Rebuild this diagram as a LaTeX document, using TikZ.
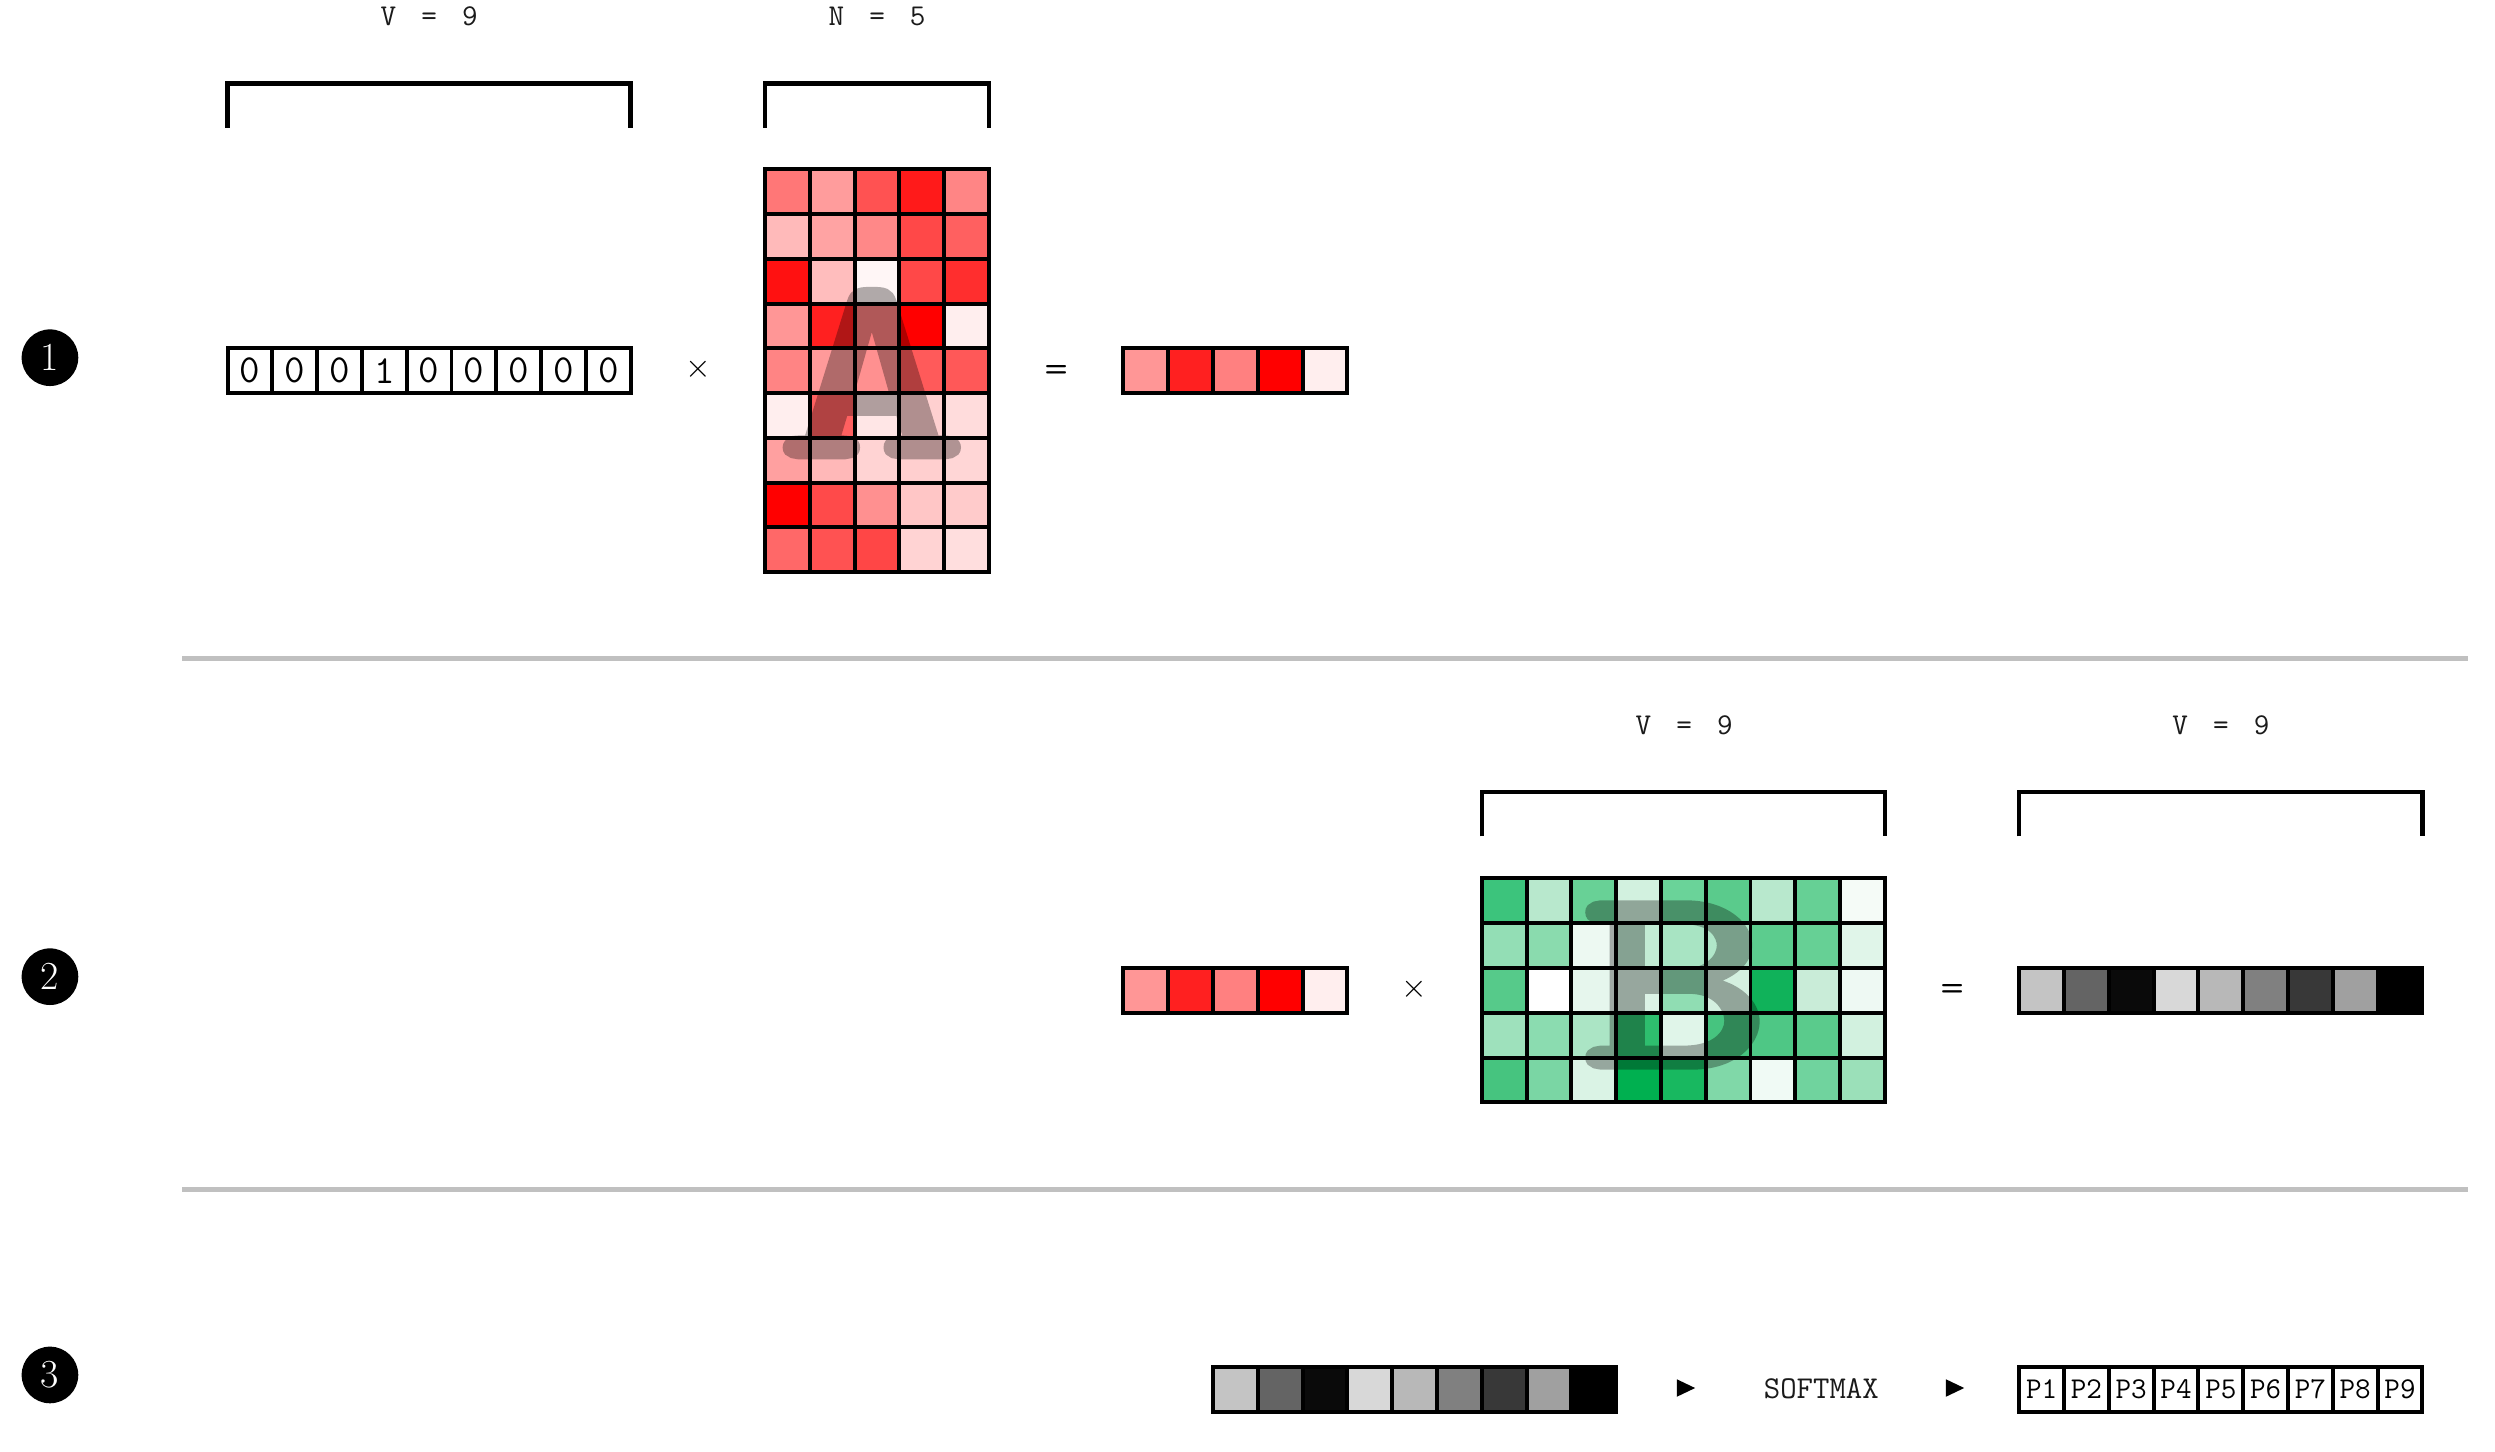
\documentclass[tikz,border=0pt]{standalone}
\usepackage{graphicx}
\font\ovfont="[lmmono10-regular.otf]:embolden=3" at 166pt
\newcommand\csz{28.15}
\newcommand\colvec[4]{\foreach [count=\i] \col in {#4} {\definecolor{cellfill}{HTML}{\col}\node[cellbox, fill=cellfill] (#1-\i) at ({#2+(\i-0.5)*\csz}, #3) {};}}
\newcommand\txtvec[5]{\foreach [count=\i] \txt in {#5} {\node[cellbox, fill=white, font={#4}] (#1-\i) at ({#2+(\i-0.5)*\csz}, #3) {\txt};}}
\newcommand\colmat[4]{\foreach [count=\r] \rowlist in {#4} {\foreach [count=\k] \col in \rowlist {\definecolor{cellfill}{HTML}{\col}\node[cellbox, fill=cellfill] (#1-\r-\k) at ({#2+(\k-0.5)*\csz}, {#3+(\r-0.5)*\csz}) {};}}}
\begin{document}
\begin{tikzpicture}[x=1pt,y=-1pt,
  cellbox/.style={draw=black, line width=2.5pt, minimum width=28.15pt, minimum height=28.15pt, inner sep=0pt, outer sep=0pt},
  brk/.style={draw=black, line width=2.8pt},
  lbl/.style={inner sep=0pt, text=txtgray, font=\fontsize{19}{19}\selectfont\ttfamily},
  op/.style={inner sep=0pt},
  circnum/.style={circle, fill=black, text=white, minimum size=35.6pt, inner sep=0pt, font=\fontsize{25}{25}\selectfont},
  sepline/.style={draw=sepgray, line width=2.9pt},
  overlay letter/.style={inner sep=0pt, font=\ovfont}]
\definecolor{sepgray}{HTML}{C0C0C0}
\definecolor{txtgray}{HTML}{1A1A1A}
\useasboundingbox (0,0) rectangle (1568,912.5);

% ---------- circled numbers
\node[circnum] (n1) at (31.4,224.8) {1};
\node[circnum] (n2) at (31.4,613.8) {2};
\node[circnum] (n3) at (31.4,864.1) {3};

% ---------- separators
\coordinate (s1a) at (114.6,413.7); \coordinate (s1b) at (1551,413.7);
\coordinate (s2a) at (114.6,747.5); \coordinate (s2b) at (1551,747.5);
\draw[sepline] (s1a) -- (s1b);
\draw[sepline] (s2a) -- (s2b);

% ---------- row 1
\txtvec{oh}{143}{233}{\fontsize{25}{25}\selectfont\ttfamily}{0,0,0,1,0,0,0,0,0}
\node[op, font=\fontsize{20}{20}\selectfont] (x1) at (438.6,232) {$\times$};
\colmat{A}{480.8}{106.3}{{FF7777,FF9C9C,FF5252,FF1A1A,FF8585},
 {FFBABA,FFA3A3,FF8888,FF4848,FF6060},
 {FF1111,FFBDBD,FFF6F6,FF4848,FF2E2E},
 {FF9696,FF2020,FF8080,FF0000,FFEEEE},
 {FF8484,FF9A9A,FF9090,FF5A5A,FF5858},
 {FFEEEE,FF6060,FFE6E6,FFD0D0,FFDCDC},
 {FFA0A0,FFB8B8,FFD3D3,FFCFCF,FFD6D6},
 {FF0000,FF4A4A,FF9090,FFC6C6,FFCBCB},
 {FF6868,FF5252,FF4646,FFD3D3,FFDEDE}}
\begin{scope}[transparency group, opacity=0.31]
\node[overlay letter] (ovA) at (548,234.5) {\scalebox{1.35}[1]{A}};
\end{scope}
\node[op, font=\fontsize{17}{17}\selectfont\sffamily\bfseries] (eq1) at (663.8,233) {=};
\colvec{r1}{706}{233}{FF9696,FF2020,FF8080,FF0000,FFEEEE}

\node[lbl] (lV1) at (269.7,10.5) {V\hspace{6pt} =\hspace{6pt} 9};
\node[lbl] (lN1) at (551.2,10.5) {N\hspace{6pt} =\hspace{6pt} 5};
\draw[brk] (143,80.2) -- (143,52.4) -- (396.35,52.4) -- (396.35,80.2);
\draw[brk] (480.8,80.2) -- (480.8,52.4) -- (621.55,52.4) -- (621.55,80.2);

% ---------- row 2
\colvec{r2}{706}{622.4}{FF9696,FF2020,FF8080,FF0000,FFEEEE}
\node[op, font=\fontsize{20}{20}\selectfont] (x2) at (889,621.5) {$\times$};
\colmat{B}{931.2}{552}{{3CC47C,B8E8CD,68D196,D2F1DF,6AD399,5ACB8C,B8E8CD,66D095,F5FBF7},
 {93DEB5,8ADBAE,EDF9F2,C2ECD4,A8E4C3,B0E7C9,5CCC8E,66D095,E0F5E9},
 {56CA8A,FFFFFF,E6F6ED,DCF3E6,90DDB3,D4F0E0,10B25A,C9ECD8,EEF9F3},
 {9EE1BC,8BDCB0,ABE5C5,2EBE6E,E0F5E9,46C47F,4EC785,5ACB8C,D2F1DF},
 {46C47F,7AD6A4,DAF3E5,00B050,18B860,80D8A8,F0FAF5,70D39E,9BE0B9}}
\begin{scope}[transparency group, opacity=0.31]
\node[overlay letter] (ovB) at (1053.3,619) {\scalebox{1.35}[1]{B}};
\end{scope}
\node[op, font=\fontsize{17}{17}\selectfont\sffamily\bfseries] (eq2) at (1226.8,622.4) {=};
\colvec{g2}{1269}{622.4}{C4C4C4,646464,0A0A0A,D8D8D8,B8B8B8,808080,383838,A0A0A0,000000}

\node[lbl] (lV2) at (1058.4,455.5) {V\hspace{6pt} =\hspace{6pt} 9};
\node[lbl] (lV3) at (1395.7,455.5) {V\hspace{6pt} =\hspace{6pt} 9};
\draw[brk] (931.2,525.6) -- (931.2,497.8) -- (1184.55,497.8) -- (1184.55,525.6);
\draw[brk] (1269,525.6) -- (1269,497.8) -- (1522.35,497.8) -- (1522.35,525.6);

% ---------- row 3
\colvec{g3}{762.3}{873}{C4C4C4,646464,0A0A0A,D8D8D8,B8B8B8,808080,383838,A0A0A0,000000}
\fill (1053.8,866.8) -- (1065.3,872.3) -- (1053.8,877.8) -- cycle;
\node[lbl, font=\fontsize{20}{20}\selectfont\ttfamily] (sm) at (1144.6,872.7) {SOFTMAX};
\fill (1222.9,866.8) -- (1234.4,872.3) -- (1222.9,877.8) -- cycle;
\txtvec{p}{1269}{873}{\fontsize{19}{19}\selectfont\ttfamily}{P1,P2,P3,P4,P5,P6,P7,P8,P9}
\end{tikzpicture}
\end{document}
